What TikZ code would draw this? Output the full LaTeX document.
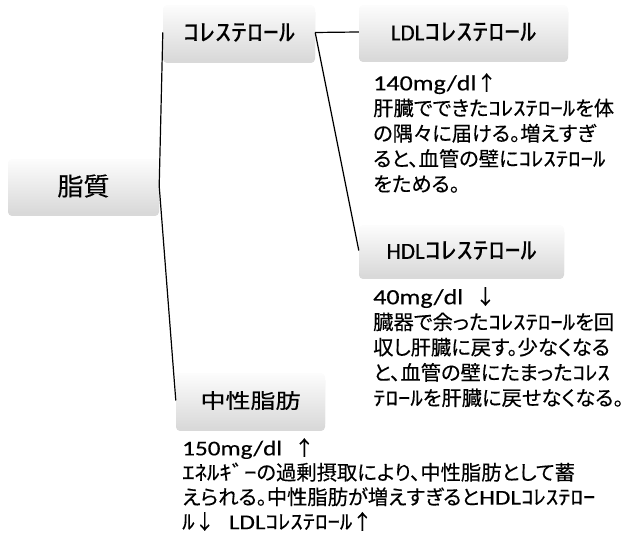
\documentclass[tikz,border=0pt]{standalone}
\usepackage{fontspec}
\setmainfont{Carlito}
\newfontfamily\jpfont[CharacterWidth=AlternateProportional, FakeBold=0.3]{Noto Sans CJK JP}
\newfontfamily\hwbody[FakeStretch=1.22, FakeBold=0.3]{Noto Sans CJK JP}
\newfontfamily\jptitle[FakeStretch=1.22, FakeBold=0.4]{Noto Sans CJK JP}
\newfontfamily\jpplain[FakeStretch=1.04, FakeBold=0.4]{Noto Sans CJK JP}
\newfontfamily\hwtitle[FakeStretch=1.33, FakeBold=0.4]{Noto Sans CJK JP}
\newfontfamily\latfont[FakeStretch=1.2, FakeBold=0.35]{Carlito}
\newfontfamily\lattitle[FakeBold=0.4]{Carlito}
\newcommand\La[1]{{\latfont\fontsize{21.7}{25}\selectfont #1}}
\newcommand\Lb[1]{{\latfont\fontsize{21}{25}\selectfont #1}}
\newcommand\LaT[1]{{\lattitle\fontsize{23}{26}\selectfont #1}}
\newcommand\HW[1]{{\hwtitle\fontsize{24}{28}\selectfont #1}}
\newcommand\hk[1]{{\hwbody #1}}
\usetikzlibrary{shadows}
\tikzset{
  box/.style={rounded corners=4pt, top color=gray!2, bottom color=gray!30,
    inner sep=0pt, text=black,
    drop shadow={opacity=0.3, shadow xshift=0pt, shadow yshift=-3pt}},
  conn/.style={line width=1.2pt, black},
  body/.style={anchor=north west, inner sep=0pt, align=left,
    font=\jpfont\fontsize{20.3}{25.3}\selectfont},
  tgbody/.style={body, font=\jpfont\fontsize{20.3}{24.6}\selectfont},
  ttl/.style={font=\jptitle\fontsize{20.5}{26}\selectfont}
}
\begin{document}
\begin{tikzpicture}[x=1pt,y=1pt]
\useasboundingbox (0,0) rectangle (630,540);
% boxes
\node[box, ttl, minimum width=151pt, minimum height=54pt] (lip) at (83.5,354)
  {{\jpplain\fontsize{25}{30}\selectfont 脂質}};
\node[box, ttl, minimum width=152pt, minimum height=55pt] (chol) at (239,507.5)
  {\HW{ｺﾚｽﾃﾛｰﾙ}};
\node[box, ttl, minimum width=209pt, minimum height=54pt] (ldl) at (463.5,508)
  {\LaT{LDL}\HW{ｺﾚｽﾃﾛｰﾙ}};
\node[box, ttl, minimum width=205pt, minimum height=51pt] (hdl) at (461.5,289.5)
  {\LaT{HDL}\HW{ｺﾚｽﾃﾛｰﾙ}};
\node[box, ttl, minimum width=149pt, minimum height=55pt] (tg) at (250.5,139.5)
  {中性脂肪};
% connectors
\draw[conn] (lip.east) -- (chol.west);
\draw[conn] (lip.east) -- (tg.west);
\draw[conn] (chol.east) -- (ldl.west);
\draw[conn] (chol.east) -- (hdl.west);
% body texts
\node[body] (ldltext) at (373,467)
  {\La{140mg/dl}↑\\肝臓でできた\hk{ｺﾚｽﾃﾛｰﾙ}を体\\の隅々に届ける。増えすぎ\\ると、血管の壁に\hk{ｺﾚｽﾃﾛｰﾙ}\\をためる。};
\node[body] (hdltext) at (373,253)
  {\La{40mg/dl}\hspace{12pt}↓\\臓器で余った\hk{ｺﾚｽﾃﾛｰﾙ}を回\\収し肝臓に戻す。少なくなる\\と、血管の壁にたまった\hk{ｺﾚｽ}\\\hk{ﾃﾛｰﾙ}を肝臓に戻せなくなる。};
\node[tgbody] (tgtext) at (182,102)
  {\Lb{150mg/dl}\hspace{12pt}↑\\\hk{ｴﾈﾙｷﾞｰ}の過剰摂取により、中性脂肪として蓄\\えられる。中性脂肪が増えすぎると\Lb{HDL}\hk{ｺﾚｽﾃﾛｰ}\\\hk{ﾙ}↓\hspace{14pt}\Lb{LDL}\hk{ｺﾚｽﾃﾛｰﾙ}↑};
\end{tikzpicture}
\end{document}
